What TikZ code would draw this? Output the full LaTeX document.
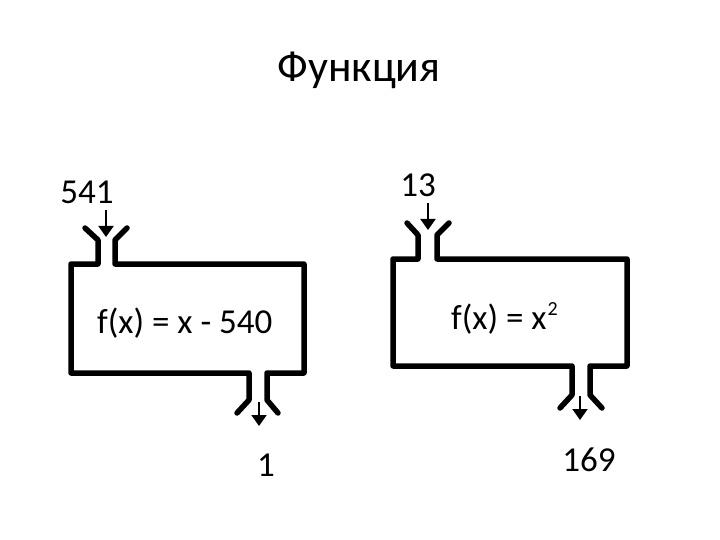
\documentclass[tikz,border=0pt]{standalone}
\usepackage{fontspec}
\setmainfont{Carlito}
\usetikzlibrary{arrows.meta}
\begin{document}
\begin{tikzpicture}[x=1pt,y=-1pt,
  machine/.style={line width=5.5pt,line join=round,line cap=round},
  feed/.style={line width=2pt,-{Triangle[width=15pt,length=11pt]}},
  lbl/.style={inner sep=0pt,font=\fontsize{35}{38}\selectfont},
  ttl/.style={inner sep=0pt,font=\fontsize{44}{48}\selectfont}]
\useasboundingbox (0,0) rectangle (720,540);
\node[ttl] (title) at (359,70) {Функция};
% left machine
\node[lbl] (in1) at (87,192) {541};
\node[lbl,anchor=base west] (f1) at (97,333) {f(x) = x - 540};
\node[lbl] (out1) at (266,465) {1};
\coordinate (a1s) at (106,210);
\coordinate (a1e) at (106,237);
\coordinate (b1s) at (259,402);
\coordinate (b1e) at (259,426);
\draw[machine] (85,228) -- (98,240) -- (98,264) -- (71,264) -- (71,373) -- (249,373) -- (249,400) -- (237,413);
\draw[machine] (278,413) -- (267,400) -- (267,373) -- (304,373) -- (304,264) -- (115,264) -- (115,240) -- (127,228);
\draw[feed] (a1s) -- (a1e);
\draw[feed] (b1s) -- (b1e);
% right machine
\node[lbl] (in2) at (418,185) {13};
\node[lbl,anchor=base west] (f2) at (451,329) {f(x) = x\kern1pt\raisebox{14pt}{\fontsize{20}{22}\selectfont 2}};
\node[lbl] (out2) at (589,460) {169};
\coordinate (a2s) at (428,203);
\coordinate (a2e) at (428,230);
\coordinate (b2s) at (580,396);
\coordinate (b2e) at (580,420);
\draw[machine] (407,223) -- (418,235) -- (418,259) -- (393,259) -- (393,366) -- (572,366) -- (572,395) -- (560,408);
\draw[machine] (602,408) -- (590,395) -- (590,366) -- (627,366) -- (627,259) -- (437,259) -- (437,235) -- (449,223);
\draw[feed] (a2s) -- (a2e);
\draw[feed] (b2s) -- (b2e);
\end{tikzpicture}
\end{document}
